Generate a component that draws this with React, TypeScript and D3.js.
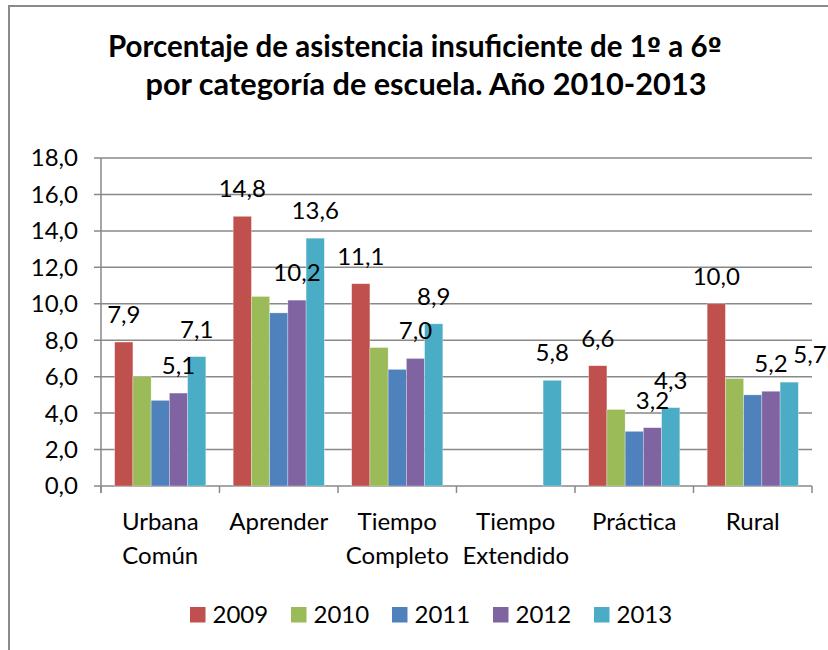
import * as React from "react";
import * as d3 from "d3";

const categories = ["Urbana Común", "Aprender", "Tiempo Completo", "Tiempo Extendido", "Práctica", "Rural"];
const categoryLines = [["Urbana", "Común"], ["Aprender"], ["Tiempo", "Completo"], ["Tiempo", "Extendido"], ["Práctica"], ["Rural"]];
const years = ["2009", "2010", "2011", "2012", "2013"];
const v2009 = [7.9, 14.8, 11.1, null, 6.6, 10.0];
const v2010 = [6.0, 10.4, 7.6, null, 4.2, 5.9];
const v2011 = [4.7, 9.5, 6.4, null, 3.0, 5.0];
const v2012 = [5.1, 10.2, 7.0, null, 3.2, 5.2];
const v2013 = [7.1, 13.6, 8.9, 5.8, 4.3, 5.7];
const yTicks = [0, 2, 4, 6, 8, 10, 12, 14, 16, 18];
const labeledYears = ["2009", "2012", "2013"];
const colors = ["#C0504D", "#9BBB59", "#4F81BD", "#8064A2", "#4BACC6"];

const series = [v2009, v2010, v2011, v2012, v2013];
const fmt = (v: number) => v.toFixed(1).replace(".", ",");
const font = "Lato, 'Open Sans', sans-serif";
const ord = "'DejaVu Sans', sans-serif";

export default function App() {
  const left = 101;
  const right = 812;
  const top = 158;
  const bottom = 486;

  const x0 = d3.scaleBand().domain(categories).range([left, right]).paddingInner(1.5 / 6.5).paddingOuter(0.75 / 6.5);
  const x1 = d3.scaleBand().domain(years).range([0, x0.bandwidth()]);
  const y = d3.scaleLinear().domain([0, 18]).range([bottom, top]);
  const step = x0.step();

  // data labels, nudged right when they run into the previous one
  const labels: any[] = [];
  categories.forEach((c, ci) => {
    let prev: any = null;
    years.forEach((yr, si) => {
      const v = series[si][ci];
      if (v == null || labeledYears.indexOf(yr) < 0) return;
      const w = 34;
      let cx = (x0(c) as number) + (x1(yr) as number) + x1.bandwidth() / 2;
      const by = y(v) - 19;
      if (prev && Math.abs(prev.by - by) < 16 && cx - w / 2 < prev.cx + w / 2) {
        cx = prev.cx + w + 5;
      }
      const lab = { key: c + yr, cx, by, text: fmt(v) };
      labels.push(lab);
      prev = lab;
    });
  });

  const boundaries = d3.range(categories.length + 1).map((i) => left + i * step);

  return (
    <svg width={828} height={650} style={{ position: "fixed", left: 0, top: 0, background: "#fff" }} fontFamily={font}>
      <rect x={9} y={6} width={900} height={700} fill="#fff" stroke="#8a8a8a" strokeWidth={2} />
      <text x={415} y={57} textAnchor="middle" fontWeight="bold" fontSize={30} textLength={614} lengthAdjust="spacingAndGlyphs">
        Porcentaje de asistencia insuficiente de 1<tspan fontFamily={ord} fontSize={26}>º</tspan> a 6<tspan fontFamily={ord} fontSize={26}>º</tspan>
      </text>
      <text x={426} y={95} textAnchor="middle" fontWeight="bold" fontSize={30} textLength={561} lengthAdjust="spacingAndGlyphs">
        por categoría de escuela. Año 2010-2013
      </text>

      {yTicks.map((t) => (
        <g key={t}>
          <line x1={left - 7} x2={right} y1={y(t)} y2={y(t)} stroke="#898989" strokeWidth={1.5} />
          <text x={78} y={y(t)} dy="0.35em" textAnchor="end" fontSize={24} fill="#000">
            {fmt(t)}
          </text>
        </g>
      ))}
      <line x1={left} x2={left} y1={top} y2={bottom + 7} stroke="#898989" strokeWidth={1.5} />
      {boundaries.map((b, i) => (
        <line key={i} x1={b} x2={b} y1={bottom} y2={bottom + 7} stroke="#898989" strokeWidth={1.5} />
      ))}

      {series.map((vals, si) =>
        categories.map((c, ci) => {
          const v = vals[ci];
          if (v == null) return null;
          return (
            <rect
              key={years[si] + c}
              x={(x0(c) as number) + (x1(years[si]) as number)}
              y={y(v)}
              width={x1.bandwidth()}
              height={y(0) - y(v)}
              fill={colors[si]}
              stroke="#ffffff"
              strokeOpacity={0.5}
              strokeWidth={0.6}
            />
          );
        })
      )}

      {labels.map((l) => (
        <text key={l.key} x={l.cx} y={l.by} textAnchor="middle" fontSize={24} fill="#000">
          {l.text}
        </text>
      ))}

      {categories.map((c, ci) => (
        <text key={c} x={(x0(c) as number) + x0.bandwidth() / 2} y={530} textAnchor="middle" fontSize={24} fill="#000">
          {categoryLines[ci].map((ln, li) => (
            <tspan key={li} x={(x0(c) as number) + x0.bandwidth() / 2} y={530 + li * 33.5}>
              {ln}
            </tspan>
          ))}
        </text>
      ))}

      {years.map((yr, i) => (
        <g key={yr} transform={`translate(${190 + i * 101},607)`}>
          <rect width={15.5} height={15.5} fill={colors[i]} />
          <text x={22.5} y={15.5} fontSize={24} fill="#000">
            {yr}
          </text>
        </g>
      ))}
    </svg>
  );
}
